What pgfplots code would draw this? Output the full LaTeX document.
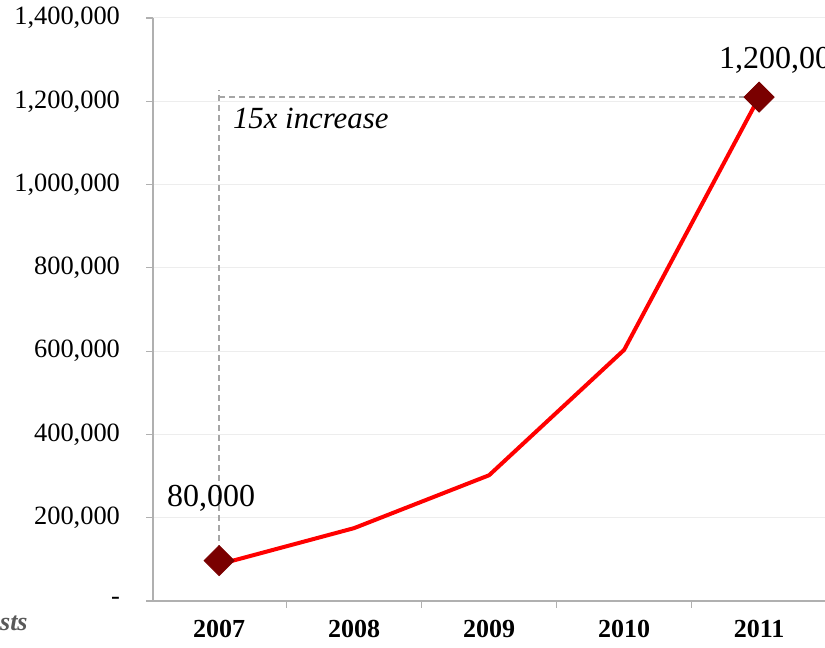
\documentclass[border=0pt]{standalone}
\usepackage{pgfplots}
\pgfplotsset{compat=1.18}
\usepackage{fontspec}
\setmainfont{Liberation Serif}
\definecolor{axisgray}{HTML}{B0B0B0}
\definecolor{gridgray}{HTML}{EDEDED}
\definecolor{dashgray}{HTML}{A6A6A6}
\definecolor{darkred}{HTML}{7A0000}
\begin{document}
\begin{tikzpicture}
\useasboundingbox (0,0) rectangle (412.5pt,324pt);
\clip (0,0) rectangle (412.5pt,324pt);
\begin{axis}[
  at={(76.5pt,23.5pt)}, anchor=south west,
  scale only axis, width=336.8pt, height=291.5pt,
  xmin=-0.49, xmax=4.5, ymin=0, ymax=1400000,
  axis lines*=left,
  axis line style={axisgray, line width=1pt},
  tick align=outside,
  major tick length=3.5pt,
  tick style={axisgray, line width=0.6pt},
  ytick={0,200000,400000,600000,800000,1000000,1200000,1400000},
  yticklabels={{-\hspace{5.5pt}},{200,000},{400,000},{600,000},{800,000},{1,000,000},{1,200,000},{1,400,000}},
  scaled y ticks=false,
  yticklabel style={font=\fontsize{13.2}{15}\selectfont, black, xshift=-9.5pt},
  ymajorgrids, major grid style={gridgray, line width=0.5pt},
  xtick={-0.5,0.5,1.5,2.5,3.5,4.5},
  xticklabels={,,,,,},
  extra x ticks={0,1,2,3,4},
  extra x tick labels={2007,2008,2009,2010,2011},
  extra x tick style={major tick length=0pt, grid=none,
    tick label style={font=\fontsize{13}{15}\selectfont\bfseries, black, yshift=-6pt}},
  clip=false,
]
\addplot[dashgray, line width=1pt, dash pattern=on 3pt off 2pt, forget plot]
  coordinates {(0,97000) (0,1227000)};
\addplot[dashgray, line width=1pt, dash pattern=on 3pt off 2pt, forget plot]
  coordinates {(0,1210000) (4,1210000)};
\addplot[only marks, mark=square*, mark size=5.3pt, mark options={rotate=45, fill=darkred, draw=darkred}]
  coordinates {(0,97000) (4,1210000)};
\addplot[red, line width=2pt, no marks, line join=round]
  coordinates {(0,88000) (1,175000) (2,302000) (3,603000) (4,1210000)};
\node[font=\fontsize{16}{18}\selectfont] at (axis cs:-0.06,247000) {80,000};
\node[font=\fontsize{16}{18}\selectfont, anchor=west, inner sep=0pt] at (axis cs:3.7,1298000) {1,200,000};
\node[font=\fontsize{15.4}{18}\selectfont\itshape, anchor=west, inner sep=0pt] at (axis cs:0.1,1159000) {15x increase};
\end{axis}
\node[anchor=east, inner sep=0pt, font=\fontsize{13}{15}\selectfont\bfseries\itshape, text=black!65] at (14pt,12.5pt) {sts};
\end{tikzpicture}
\end{document}
